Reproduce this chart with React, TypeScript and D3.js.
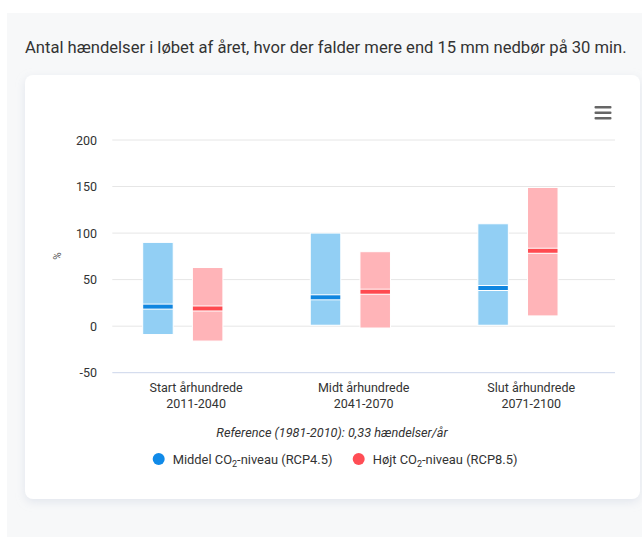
import React from "react";
import * as d3 from "d3";

const categories = ["Start århundrede|2011-2040", "Midt århundrede|2041-2070", "Slut århundrede|2071-2100"];
const seriesNames = ["Middel CO₂-niveau (RCP4.5)", "Højt CO₂-niveau (RCP8.5)"];
const rcp45Low = [-9, 1, 1];
const rcp45High = [90, 100, 110];
const rcp45Median = [21, 31, 41];
const rcp85Low = [-16, -2, 11];
const rcp85High = [63, 80, 149];
const rcp85Median = [19, 37, 81];
const yTicks = [-50, 0, 50, 100, 150, 200];

const W = 642, H = 537;
const plotLeft = 112.3, plotRight = 615, plotTop = 140, plotBottom = 372.7;
const fillColors = ["#92cff4", "#ffb4b8"];
const medianColors = ["#1086e0", "#ff4a50"];
const legendColors = ["#108ae8", "#ff4d55"];
const font = "Roboto, 'Noto Sans', sans-serif";

export default function App() {
  const x = d3.scaleBand<string>().domain(categories).range([plotLeft, plotRight]).padding(0);
  const y = d3.scaleLinear().domain([-50, 200]).range([plotBottom, plotTop]);
  const bw = x.bandwidth();
  // inner placement of the two series in each category
  const inner = d3.scaleBand<number>().domain([0, 1]).range([30.4, 110.6]).paddingInner(0.386).paddingOuter(0);
  const barW = inner.bandwidth();

  const series = [
    { low: rcp45Low, high: rcp45High, med: rcp45Median },
    { low: rcp85Low, high: rcp85High, med: rcp85Median },
  ];

  return (
    <svg width={W} height={H} style={{ position: "absolute", left: 0, top: 0 }} fontFamily={font}>
      <defs>
        <filter id="sh" x="-5%" y="-5%" width="110%" height="115%">
          <feDropShadow dx="0" dy="3" stdDeviation="5" floodColor="#b8c2d6" floodOpacity="0.35" />
        </filter>
      </defs>
      <rect x={0} y={0} width={W} height={H} fill="#ffffff" />
      <rect x={7} y={13} width={W - 7} height={H - 13} fill="#f7f8f9" />
      <text x={25} y={52.5} fontSize={16.6} fill="#333" fontFamily={font}>
        Antal hændelser i løbet af året, hvor der falder mere end 15 mm nedbør på 30 min.
      </text>
      <rect x={25} y={75} width={615} height={424} rx={8} fill="#fff" filter="url(#sh)" />

      {/* hamburger */}
      {[0, 1, 2].map((i) => (
        <rect key={i} x={594.5} y={106 + i * 5.5} width={17} height={2.4} rx={1} fill="#666" />
      ))}

      {/* grid */}
      {yTicks.map((t) => (
        <g key={t}>
          <line x1={plotLeft} x2={plotRight} y1={y(t)} y2={y(t)} stroke={t === -50 ? "#ccd6eb" : "#e6e6e6"} strokeWidth={1} />
          <text x={97} y={y(t) + 4.5} textAnchor="end" fontSize={12.5} fill="#333">{t}</text>
        </g>
      ))}
      <text transform={`translate(61,256) rotate(-90)`} textAnchor="middle" fontSize={10} fill="#555">%</text>

      {/* bars */}
      {series.map((s, si) =>
        categories.map((c, ci) => {
          const bx = (x(c) as number) + (inner(si) as number);
          const yt = y(s.high[ci]);
          const yb = y(s.low[ci]);
          const ym = y(s.med[ci]);
          return (
            <g key={`${si}-${ci}`}>
              <rect x={bx} y={yt} width={barW} height={yb - yt} fill={fillColors[si]} stroke="#fff" strokeWidth={1} />
              <rect x={bx} y={ym - 3} width={barW} height={6} fill="#fff" />
              <rect x={bx + 0.5} y={ym - 2} width={barW - 1} height={4} fill={medianColors[si]} />
            </g>
          );
        })
      )}

      {/* category labels */}
      {categories.map((c) => {
        const [l1, l2] = c.split("|");
        const cx = (x(c) as number) + bw / 2;
        return (
          <text key={c} x={cx} textAnchor="middle" fontSize={12.5} fill="#333">
            <tspan x={cx} y={392}>{l1}</tspan>
            <tspan x={cx} y={408}>{l2}</tspan>
          </text>
        );
      })}

      <text x={332} y={437} textAnchor="middle" fontSize={12.7} fontStyle="italic" fill="#333">
        Reference (1981-2010): 0,33 hændelser/år
      </text>

      {/* legend */}
      {seriesNames.map((n, i) => {
        const lx = i === 0 ? 158.7 : 358.7;
        const [pre, post] = n.split("₂");
        return (
          <g key={n}>
            <circle cx={lx} cy={459} r={6} fill={legendColors[i]} />
            <text x={lx + 14} y={463.5} fontSize={12.9} fill="#333">
              {pre}
              <tspan fontSize={9} dy={3}>2</tspan>
              <tspan dy={-3}>{post}</tspan>
            </text>
          </g>
        );
      })}
    </svg>
  );
}
